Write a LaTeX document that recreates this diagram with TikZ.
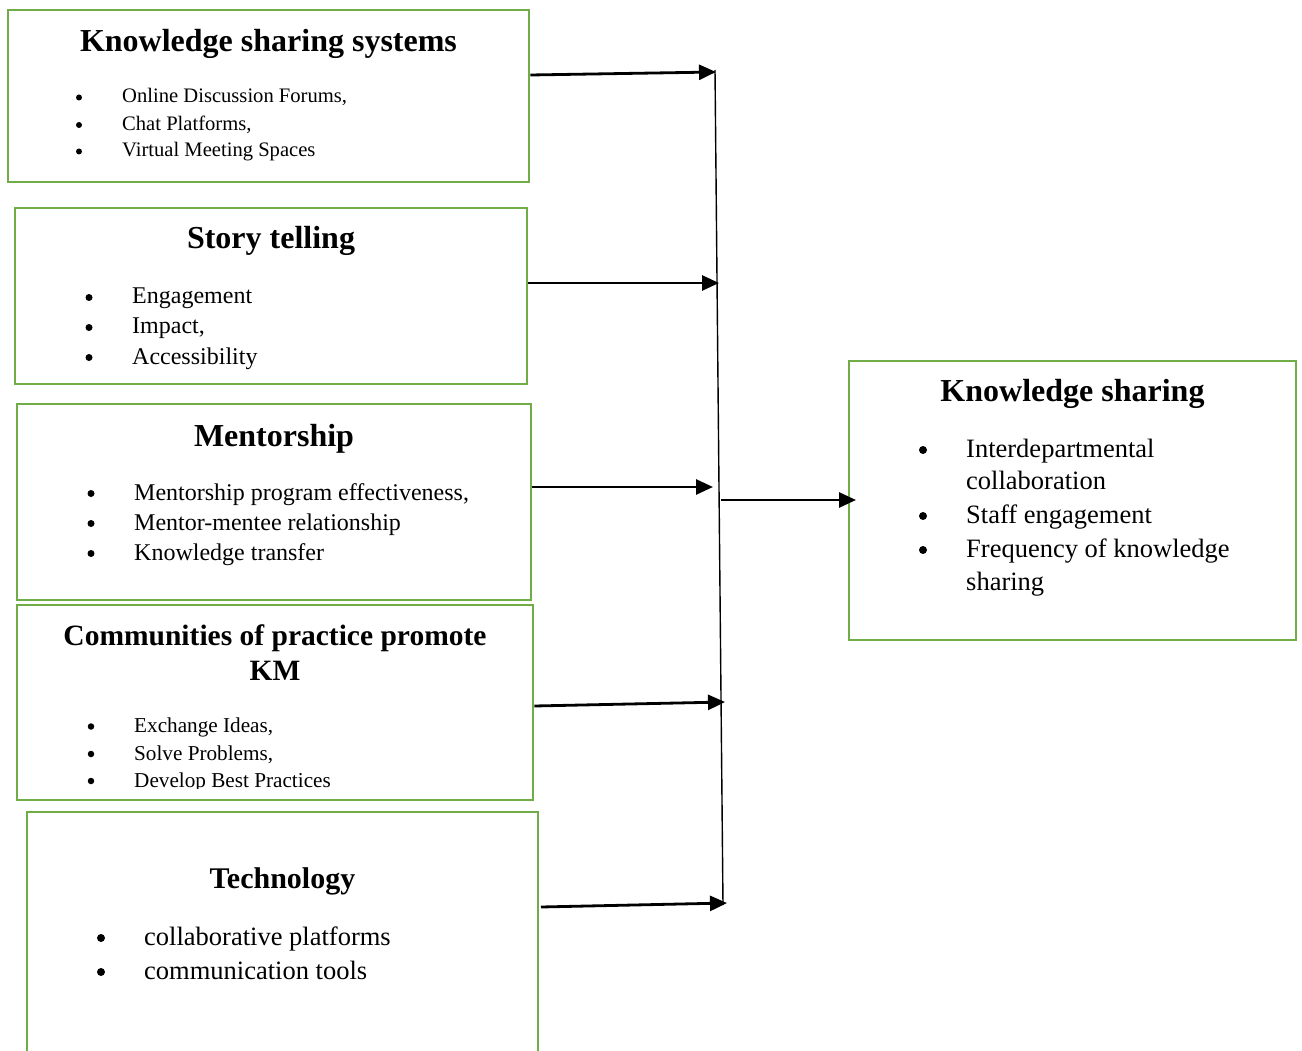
\documentclass[tikz,border=0pt]{standalone}
\usepackage{fontspec}
\setmainfont{Liberation Serif}
\usetikzlibrary{arrows.meta}
\definecolor{boxgreen}{RGB}{112,173,71}
\begin{document}
\begin{tikzpicture}[x=1pt,y=-1pt,
  box/.style={draw=boxgreen,line width=2.8pt,inner sep=0pt},
  ttl/.style={anchor=base,inner sep=0pt,font=\fontsize{32}{35}\selectfont\bfseries},
  itm/.style={anchor=base west,inner sep=0pt},
  bdot/.style={circle,fill=black,inner sep=0pt,minimum size=#1},
  fa/.style={font=\fontsize{20.6}{27}\selectfont},
  fb/.style={font=\fontsize{24}{30}\selectfont},
  fc/.style={font=\fontsize{21.2}{28}\selectfont},
  fd/.style={font=\fontsize{26.5}{34}\selectfont},
  conn/.style={line width=2.8pt,-{Triangle[length=17pt,width=15pt]}},
  spine/.style={line width=1.4pt}
]
\useasboundingbox (0,0) rectangle (1302,1051);

% boxes
\node[box,minimum width=521pt,minimum height=172pt] (b1) at (268.5,96) {};
\node[box,minimum width=512pt,minimum height=176pt] (b2) at (271,296) {};
\node[box,minimum width=514pt,minimum height=196pt] (b3) at (274,502) {};
\node[box,minimum width=516pt,minimum height=195pt] (b4) at (275,702.5) {};
\node[box,minimum width=447pt,minimum height=279pt] (b6) at (1072.5,500.5) {};
\draw[draw=boxgreen,line width=2.8pt] (27,1065) -- (27,812) -- (538,812) -- (538,1065);

% box 1
\node[ttl] (t1) at (268.5,52) {Knowledge sharing systems};
\node[bdot=6pt] (b1a) at (79,97.5) {};
\node[bdot=6pt] (b1b) at (79,125) {};
\node[bdot=6pt] (b1c) at (79,151.5) {};
\node[itm,fa] (i1a) at (122,103) {Online Discussion Forums,};
\node[itm,fa] (i1b) at (122,130.5) {Chat Platforms,};
\node[itm,fa] (i1c) at (122,157) {Virtual Meeting Spaces};

% box 2
\node[ttl] (t2) at (271,249) {Story telling};
\node[bdot=7pt] (b2a) at (89,297.5) {};
\node[bdot=7pt] (b2b) at (89,327.5) {};
\node[bdot=7pt] (b2c) at (89,357.5) {};
\node[itm,fb] (i2a) at (132,304) {Engagement};
\node[itm,fb] (i2b) at (132,334) {Impact,};
\node[itm,fb] (i2c) at (132,364) {Accessibility};

% box 3
\node[ttl] (t3) at (274,446) {Mentorship};
\node[bdot=7pt] (b3a) at (91,493.5) {};
\node[bdot=7pt] (b3b) at (91,523.5) {};
\node[bdot=7pt] (b3c) at (91,553.5) {};
\node[itm,fb] (i3a) at (134,500) {Mentorship program effectiveness,};
\node[itm,fb] (i3b) at (134,530) {Mentor-mentee relationship};
\node[itm,fb] (i3c) at (134,560) {Knowledge transfer};

% box 4
\node[ttl,font=\fontsize{29.5}{35}\selectfont\bfseries] (t4a) at (275,645.5) {Communities of practice promote};
\node[ttl,font=\fontsize{29.5}{35}\selectfont\bfseries] (t4b) at (275,680.5) {KM};
\node[bdot=6.5pt] (b4a) at (91,726.5) {};
\node[bdot=6.5pt] (b4b) at (91,754) {};
\node[bdot=6.5pt] (b4c) at (91,781) {};
\begin{scope}
\clip (17,605) rectangle (533,788.5);
\node[itm,fc] (i4a) at (134,732.5) {Exchange Ideas,};
\node[itm,fc] (i4b) at (134,760) {Solve Problems,};
\node[itm,fc] (i4c) at (134,787) {Develop Best Practices};
\end{scope}

% box 5
\node[ttl,font=\fontsize{30}{34}\selectfont\bfseries] (t5) at (282.5,888) {Technology};
\node[bdot=8pt] (b5a) at (101,938) {};
\node[bdot=8pt] (b5b) at (101,972) {};
\node[itm,fd] (i5a) at (144,945) {collaborative platforms};
\node[itm,fd] (i5b) at (144,979) {communication tools};

% box 6
\node[ttl] (t6) at (1072.5,401) {Knowledge sharing};
\node[bdot=8pt] (b6a) at (923,450) {};
\node[bdot=8pt] (b6b) at (923,516) {};
\node[bdot=8pt] (b6c) at (923,550) {};
\node[itm,fd] (i6a) at (966,457) {Interdepartmental};
\node[itm,fd] (i6a2) at (966,489) {collaboration};
\node[itm,fd] (i6b) at (966,523) {Staff engagement};
\node[itm,fd] (i6c) at (966,557) {Frequency of knowledge};
\node[itm,fd] (i6c2) at (966,590) {sharing};

% connectors
\coordinate (vtop) at (715,70);
\coordinate (vbot) at (723,905);
\coordinate (vmid) at (721,500);
\coordinate (e1) at (716,72);
\coordinate (e2) at (719,283);
\coordinate (e3) at (713,487);
\coordinate (e4) at (725,702);
\coordinate (e5) at (727,903);
\coordinate (s5) at (541,907);
\coordinate (e6) at (856,500);
\draw[spine] (vtop) -- (vbot);
\draw[conn] (b1.east |- 0,75) -- (e1);
\draw[conn] (b2.east |- 0,283) -- (e2);
\draw[conn] (b3.east |- 0,487) -- (e3);
\draw[conn] (b4.east |- 0,706) -- (e4);
\draw[conn] (s5) -- (e5);
\draw[conn] (vmid) -- (e6);
\end{tikzpicture}
\end{document}
